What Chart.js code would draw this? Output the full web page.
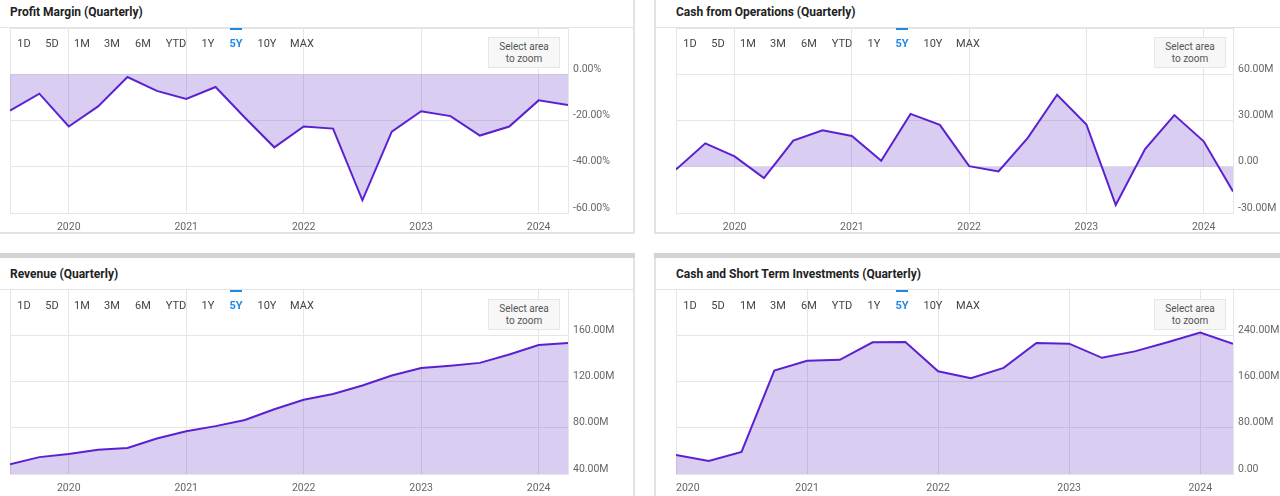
<!DOCTYPE html>
<html>
<head>
<meta charset="utf-8">
<script src="https://cdn.jsdelivr.net/npm/chart.js@4.4.1/dist/chart.umd.min.js"></script>
<style>
  html, body { margin: 0; padding: 0; width: 1280px; height: 496px; overflow: hidden; background: #fff; font-family: Roboto, "Noto Sans", sans-serif; }
  .abs { position: absolute; }
  .line { position: absolute; }
  .title { position: absolute; font-weight: 700; font-size: 12px; color: #222; white-space: nowrap; line-height: 14px; }
  .btn { position: absolute; font-size: 11px; color: #444; white-space: nowrap; transform: translateX(-50%); line-height: 12px; }
  .btn.active { color: #1e88e5; font-weight: 700; }
  .uline { position: absolute; height: 2px; background: #1e88e5; }
  .zoombox { position: absolute; box-sizing: border-box; background: #f7f7f7; border: 1px solid #e6e6e6; font-size: 10px; color: #555; text-align: center; line-height: 12px; padding-top: 3px; }
  canvas { position: absolute; }
</style>
</head>
<body>
<script>
// ---------- data ----------
const quarters = ['2019-06-30','2019-09-30','2019-12-31','2020-03-31','2020-06-30','2020-09-30','2020-12-31','2021-03-31','2021-06-30','2021-09-30','2021-12-31','2022-03-31','2022-06-30','2022-09-30','2022-12-31','2023-03-31','2023-06-30','2023-09-30','2023-12-31','2024-03-31'];
const quartersCash = ['2019-12-31','2020-03-31','2020-06-30','2020-09-30','2020-12-31','2021-03-31','2021-06-30','2021-09-30','2021-12-31','2022-03-31','2022-06-30','2022-09-30','2022-12-31','2023-03-31','2023-06-30','2023-09-30','2023-12-31','2024-03-31'];

const profitMargin = [-15.7, -8.4, -22.6, -13.9, -1.2, -7.2, -10.7, -5.5, -18.8, -31.6, -22.6, -23.5, -54.5, -24.8, -16.0, -18.1, -26.5, -22.6, -11.3, -13.3];
const cashFromOps  = [-1.8, 15.2, 6.7, -7.4, 17.0, 23.7, 20.0, 3.9, 34.3, 27.2, 0.4, -3.0, 18.7, 46.7, 27.4, -24.8, 11.5, 33.5, 16.5, -16.1];
const revenue      = [48.5, 54.6, 57.2, 61.0, 62.5, 70.7, 77.0, 81.4, 86.7, 96.0, 104.2, 109.2, 116.5, 125.2, 131.7, 133.7, 136.1, 143.4, 151.5, 153.3];
const cashShortTerm = [33.1, 22.7, 38.3, 179.0, 195.8, 197.5, 227.8, 228.3, 177.8, 165.6, 183.5, 226.6, 225.4, 201.0, 212.1, 227.8, 244.6, 225.4];

const yearTicks = [2020, 2021, 2022, 2023, 2024];
const pmTicks   = [-60, -40, -20, 0, 20];
const cfoTicks  = [-30, 0, 30, 60, 90];
const revTicks  = [40, 80, 120, 160, 200];
const cashTicks = [0, 80, 160, 240, 320];

const rangeLabels = ['1D','5D','1M','3M','6M','YTD','1Y','5Y','10Y','MAX'];
const activeRange = '5Y';

const titles = ['Profit Margin (Quarterly)', 'Cash from Operations (Quarterly)', 'Revenue (Quarterly)', 'Cash and Short Term Investments (Quarterly)'];

// ---------- styles / layout ----------
const LINE = '#5b21d1';
const FILL = 'rgba(112, 62, 206, 0.26)';
const GRID = '#e6e6e6';
const TICK = '#666';
const btnCenters = [24, 52, 82, 112, 143, 176, 208, 236, 267, 302];

function toYear(d) { const [y, m] = d.split('-').map(Number); return y + m / 12; }
const fmtPct = v => v.toFixed(2) + '%';
const fmtM = v => v === 0 ? '0.00' : v.toFixed(2) + 'M';

function el(cls, css, text) {
  const d = document.createElement('div');
  d.className = cls;
  Object.assign(d.style, css);
  if (text !== undefined) d.textContent = text;
  document.body.appendChild(d);
  return d;
}

function panelDecor(title, dx, dy) {
  el('title', { left: (10 + dx) + 'px', top: (5 + dy) + 'px' }, title);
  el('line', { left: (dx === 0 ? 0 : 656) + 'px', top: (27 + dy) + 'px', width: (dx === 0 ? 633 : 624) + 'px', height: '1px', background: '#e2e2e2' });
  rangeLabels.forEach((r, i) => {
    el('btn' + (r === activeRange ? ' active' : ''), { left: (btnCenters[i] + dx) + 'px', top: (38 + dy) + 'px' }, r);
    if (r === activeRange) el('uline', { left: (btnCenters[i] - 6 + dx) + 'px', top: (28 + dy) + 'px', width: '12px' });
  });
  const z = el('zoombox', { left: (488 + dx) + 'px', top: (37 + dy) + 'px', width: '72px', height: '31px' });
  z.innerHTML = 'Select area<br>to zoom';
}

function makeChart(opts) {
  const cv = document.createElement('canvas');
  cv.width = opts.w; cv.height = opts.h;
  cv.style.left = opts.left + 'px'; cv.style.top = opts.top + 'px';
  document.body.appendChild(cv);
  const xs = opts.dates.map(toYear);
  const xMin = xs[0], xMax = xs[xs.length - 1];
  const yTicks = opts.yTicks;
  const yMax = yTicks[yTicks.length - 1];
  new Chart(cv, {
    type: 'line',
    data: {
      datasets: [{
        data: xs.map((x, i) => ({ x, y: opts.values[i] })),
        borderColor: LINE, backgroundColor: FILL, borderWidth: 2,
        pointRadius: 0, fill: 'origin', tension: 0
      }]
    },
    options: {
      responsive: false, animation: false, devicePixelRatio: 1,
      layout: { padding: { left: opts.padLeft, right: 0, top: 0, bottom: 0 } },
      plugins: { legend: { display: false }, tooltip: { enabled: false } },
      scales: {
        x: {
          type: 'linear', min: xMin, max: xMax,
          grid: { color: GRID, drawTicks: false, lineWidth: 1 },
          border: { display: true, color: GRID },
          ticks: {
            autoSkip: false, maxRotation: 0, minRotation: 0, align: 'inner', padding: 8,
            color: TICK, font: { family: 'Roboto', size: 10.5 },
            callback: v => yearTicks.includes(v) ? String(v) : ''
          },
          afterBuildTicks: s => {
            const vals = Array.from(new Set([xMin, ...yearTicks.filter(y => y >= xMin && y <= xMax), xMax])).sort((a, b) => a - b);
            s.ticks = vals.map(v => ({ value: v }));
          },
          afterFit: s => { s.height = opts.axisH; s.paddingLeft = 0; s.paddingRight = 0; }
        },
        y: {
          type: 'linear', position: 'right', min: yTicks[0], max: yMax,
          grid: { color: GRID, drawTicks: false, lineWidth: 1 },
          border: { display: false },
          ticks: {
            padding: 5, labelOffset: -5, color: TICK, font: { family: 'Roboto', size: 10.5 },
            callback: v => v === yMax ? '' : opts.fmt(v)
          },
          afterBuildTicks: s => { s.ticks = yTicks.map(v => ({ value: v })); },
          afterFit: s => { s.width = opts.yW; s.paddingTop = 0; s.paddingBottom = 0; }
        }
      }
    }
  });
}

// ---------- panel frames ----------
el('line', { left: '633px', top: '0px', width: '2px', height: '234px', background: '#e3e3e3' });
el('line', { left: '654px', top: '0px', width: '2px', height: '234px', background: '#e3e3e3' });
el('line', { left: '0px', top: '232px', width: '635px', height: '2px', background: '#e3e3e3' });
el('line', { left: '654px', top: '232px', width: '626px', height: '2px', background: '#e3e3e3' });
el('line', { left: '0px', top: '253px', width: '635px', height: '5px', background: '#d3d3d3' });
el('line', { left: '654px', top: '253px', width: '626px', height: '5px', background: '#d3d3d3' });
el('line', { left: '633px', top: '258px', width: '2px', height: '238px', background: '#e3e3e3' });
el('line', { left: '654px', top: '258px', width: '2px', height: '238px', background: '#e3e3e3' });

// ---------- charts ----------
makeChart({ left: 0,   top: 28,  w: 633, h: 205, padLeft: 10, yW: 65, axisH: 20, dates: quarters, values: profitMargin, yTicks: pmTicks, fmt: fmtPct });
makeChart({ left: 656, top: 28,  w: 624, h: 205, padLeft: 20, yW: 47, axisH: 20, dates: quarters, values: cashFromOps, yTicks: cfoTicks, fmt: fmtM });
makeChart({ left: 0,   top: 289, w: 633, h: 207, padLeft: 10, yW: 65, axisH: 22, dates: quarters, values: revenue, yTicks: revTicks, fmt: fmtM });
makeChart({ left: 656, top: 289, w: 624, h: 207, padLeft: 20, yW: 47, axisH: 22, dates: quartersCash, values: cashShortTerm, yTicks: cashTicks, fmt: fmtM });

panelDecor(titles[0], 0, 0);
panelDecor(titles[1], 666, 0);
panelDecor(titles[2], 0, 262);
panelDecor(titles[3], 666, 262);
</script>
</body>
</html>
